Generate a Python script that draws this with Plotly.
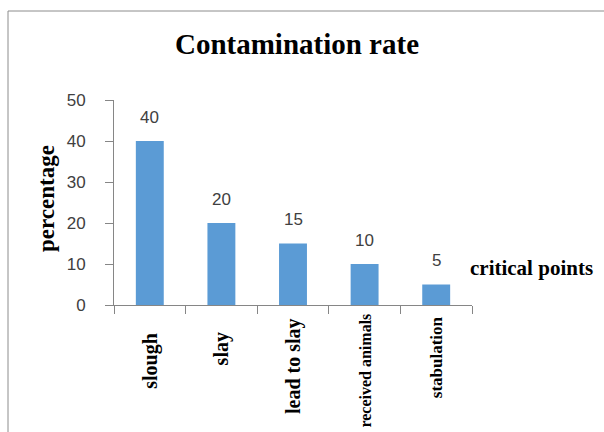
import plotly.graph_objects as go

categories = ["slough", "slay", "lead to slay", "received animals", "stabulation"]
values = [40, 20, 15, 10, 5]
y_ticks = [0, 10, 20, 30, 40, 50]

# style: font size and vertical centre (pixels) of each rotated category label
label_sizes = [20, 20, 20, 16, 17]
label_centers = [361, 349, 366, 371, 357]

W, H = 604, 432
ml, mr, mt, mb = 114, 132, 100, 127
pw, ph = W - ml - mr, H - mt - mb

def px_x(x):
    return (x - ml) / pw

def px_y(y):
    return (H - mb - y) / ph

serif = "Liberation Serif, Times New Roman, serif"
sans = "Liberation Sans, Arial, sans-serif"

fig = go.Figure()
fig.add_trace(go.Bar(x=categories, y=values, marker=dict(color="#5B9BD5", line=dict(width=0)),
                     hoverinfo="skip"))

annotations = []
for c, v in zip(categories, values):
    annotations.append(dict(x=c, y=v, xref="x", yref="y", text=str(v), showarrow=False,
                            yshift=24, yanchor="middle",
                            font=dict(family=sans, size=17, color="#404040")))
for c, s, yc in zip(categories, label_sizes, label_centers):
    annotations.append(dict(x=c, y=px_y(yc), xref="x", yref="paper", text="<b>%s</b>" % c,
                            textangle=-90, showarrow=False, yanchor="middle", xanchor="center",
                            font=dict(family=serif, size=s, color="black")))
annotations.append(dict(x=px_x(46), y=px_y(199), xref="paper", yref="paper", text="<b>percentage</b>",
                        textangle=-90, showarrow=False, xanchor="center", yanchor="middle",
                        font=dict(family=serif, size=23, color="black")))
annotations.append(dict(x=px_x(468), y=px_y(268), xref="paper", yref="paper", text="<b>critical points</b>",
                        showarrow=False, xanchor="left", yanchor="middle",
                        font=dict(family=serif, size=21, color="black")))

shapes = [
    dict(type="line", xref="paper", yref="paper", x0=px_x(8), x1=px_x(8), y0=px_y(440), y1=px_y(11),
         line=dict(color="#8c8c8c", width=1)),
    dict(type="line", xref="paper", yref="paper", x0=px_x(8), x1=px_x(620), y0=px_y(11), y1=px_y(11),
         line=dict(color="#8c8c8c", width=1)),
]

fig.update_layout(
    width=W, height=H,
    margin=dict(l=ml, r=mr, t=mt, b=mb, autoexpand=False),
    paper_bgcolor="white", plot_bgcolor="white",
    showlegend=False,
    bargap=0.61,
    title=dict(text="<b>Contamination rate</b>", xref="container", yref="container",
               x=297 / W, y=1 - 44 / H, xanchor="center", yanchor="middle",
               font=dict(family=serif, size=29, color="black")),
    xaxis=dict(showticklabels=False, ticks="outside", ticklen=8, tickcolor="#868686",
               tickson="boundaries", showline=True, linecolor="#868686", linewidth=1,
               showgrid=False, zeroline=False, fixedrange=True),
    yaxis=dict(range=[0, 50], tickvals=y_ticks, ticks="outside", ticklen=8, tickcolor="#868686",
               showline=True, linecolor="#868686", linewidth=1, showgrid=False, zeroline=False,
               ticklabelstandoff=16,
               tickfont=dict(family=sans, size=17, color="#404040"), fixedrange=True),
    annotations=annotations,
    shapes=shapes,
)

fig.write_html("out.html", config={"displayModeBar": False},
               post_script="document.body.style.margin='0';document.body.style.overflow='hidden';")
